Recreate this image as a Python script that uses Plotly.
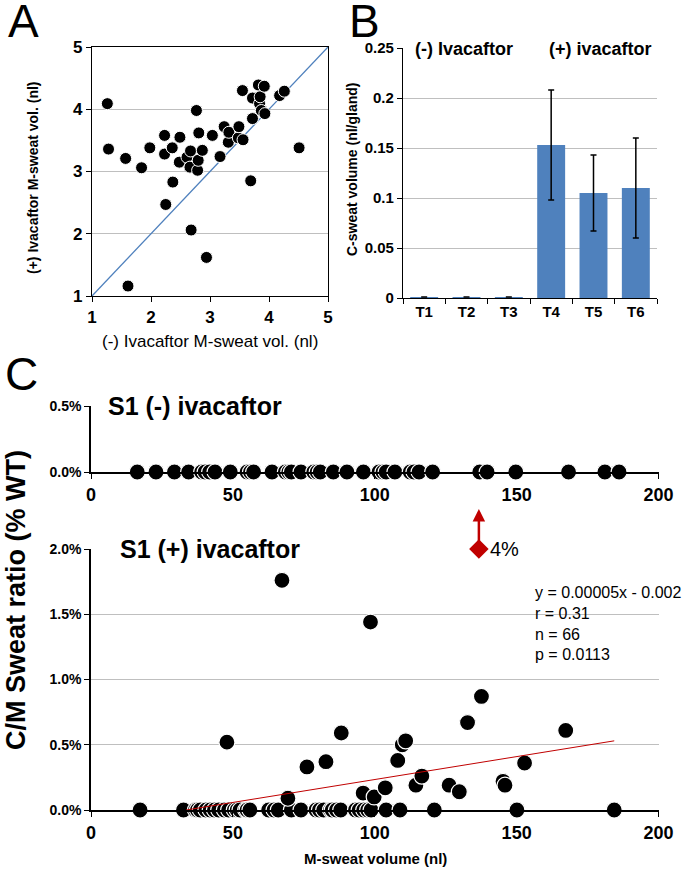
import plotly.graph_objects as go

# Panel A: M-sweat volume per gland, before vs after ivacaftor
a_minus = [1.26, 1.28, 1.57, 1.61, 1.84, 1.98, 2.23, 2.23, 2.25, 2.36, 2.37, 2.48, 2.49, 2.61, 2.66,
           2.67, 2.68, 2.77, 2.79, 2.80, 2.81, 2.87, 2.94, 3.04, 3.17, 3.24, 3.31, 3.32, 3.48, 3.49,
           3.55, 3.56, 3.69, 3.72, 3.72, 3.82, 3.84, 3.85, 3.87, 3.92, 3.93, 4.18, 4.26, 4.51]
a_plus = [4.09, 3.36, 3.21, 1.16, 3.06, 3.38, 3.58, 3.28, 2.47, 3.38, 2.83, 3.15, 3.55, 3.23, 3.07,
          3.33, 2.06, 3.98, 3.02, 3.18, 3.62, 3.34, 1.62, 3.58, 3.24, 3.72, 3.47, 3.63, 3.54, 3.72,
          4.30, 3.51, 2.85, 3.85, 4.18, 4.39, 4.09, 4.20, 3.98, 4.37, 3.93, 4.22, 4.29, 3.38]
identity = [1, 5]

# Panel B: C-sweat volume per test
b_tests = ['T1', 'T2', 'T3', 'T4', 'T5', 'T6']
b_vol = [0.001, 0.001, 0.001, 0.153, 0.105, 0.110]
b_err = [0, 0, 0, 0.055, 0.038, 0.050]

# Panel C top: S1 without ivacaftor (all zero ratio)
c_minus_x = [16.3, 22.9, 29.4, 34.4, 39.0, 40.2, 41.8, 43.7, 49.1, 55.0, 56.2, 57.3, 63.8, 68.5,
             69.7, 70.6, 74.0, 78.5, 79.7, 80.8, 85.4, 90.2, 96.0, 101.5, 102.9, 104.0, 107.1,
             112.5, 113.8, 115.6, 120.4, 137.0, 139.6, 149.7, 168.3, 181.1, 186.1]
c_minus_y = [0.0] * len(c_minus_x)

# Panel C bottom: S1 with ivacaftor
c_zero_x = [17.3, 32.6, 36.8, 37.5, 38.5, 40.5, 42.0, 43.5, 45.0, 47.0, 48.5, 50.5, 51.5, 52.5,
            54.5, 55.0, 56.0, 62.6, 64.5, 66.0, 70.6, 74.0, 79.3, 80.5, 82.0, 84.4, 85.0, 86.5,
            88.0, 93.2, 94.5, 96.1, 97.5, 98.7, 104.0, 108.9, 121.0, 150.1, 184.4]
c_pos_x = [47.9, 67.3, 69.4, 76.1, 82.8, 88.2, 95.9, 98.5, 99.8, 103.7, 108.1, 109.7, 110.9,
           114.5, 116.6, 126.2, 129.8, 132.7, 137.6, 145.2, 145.9, 152.8, 167.3]
c_pos_y = [0.52, 1.76, 0.09, 0.33, 0.37, 0.59, 0.13, 1.44, 0.10, 0.17, 0.38, 0.50, 0.53,
           0.19, 0.26, 0.19, 0.14, 0.67, 0.87, 0.22, 0.19, 0.36, 0.61]
c_plus_x = c_zero_x + c_pos_x
c_plus_y = [0.0] * len(c_zero_x) + c_pos_y
trend_x = [33.5, 184.4]
trend_y = [0.0, 0.53]
outlier_x = [136.7]
outlier_y = [2.0]
outlier_label = '4%'
stats = ['y = 0.00005x - 0.002', 'r = 0.31', 'n = 66', 'p = 0.0113']

W, H = 690, 871
FONT = 'Liberation Sans, Arial, sans-serif'
GRID = '#BFBFBF'


def px(x):
    return x / W


def py(y):
    return 1 - y / H


dot = dict(color='black', size=16, line=dict(color='white', width=1.2))

fig = go.Figure()

fig.add_trace(go.Scatter(x=identity, y=identity, mode='lines', line=dict(color='#4F81BD', width=1.3),
                         xaxis='x', yaxis='y', hoverinfo='skip'))
fig.add_trace(go.Scatter(x=a_minus, y=a_plus, mode='markers',
                         marker=dict(color='black', size=12, line=dict(color='white', width=1)),
                         xaxis='x', yaxis='y'))

fig.add_trace(go.Bar(x=b_tests, y=b_vol, marker=dict(color='#4F81BD', line=dict(width=0)),
                     error_y=dict(type='data', array=b_err, color='black', thickness=1.5, width=3),
                     xaxis='x2', yaxis='y2'))

fig.add_trace(go.Scatter(x=c_minus_x, y=c_minus_y, mode='markers', marker=dot, cliponaxis=False,
                         xaxis='x3', yaxis='y3'))

fig.add_trace(go.Scatter(x=c_plus_x, y=c_plus_y, mode='markers', marker=dot, cliponaxis=False,
                         xaxis='x4', yaxis='y4'))
fig.add_trace(go.Scatter(x=trend_x, y=trend_y, mode='lines', line=dict(color='#C00000', width=1),
                         cliponaxis=False, xaxis='x4', yaxis='y4'))
fig.add_trace(go.Scatter(x=outlier_x, y=outlier_y, mode='markers',
                         marker=dict(symbol='diamond', color='#C00000', size=15,
                                     line=dict(color='#C00000', width=0)),
                         cliponaxis=False, xaxis='x4', yaxis='y4'))

axis_common = dict(showline=True, linecolor='black', ticks='outside', tickcolor='black',
                   zeroline=False, automargin=False)


def tf(size):
    return dict(family=FONT, size=size, color='black', weight='bold')


fig.update_layout(
    width=W, height=H, showlegend=False, plot_bgcolor='white', paper_bgcolor='white',
    margin=dict(l=0, r=0, t=0, b=0, pad=0, autoexpand=False), bargap=0.34,
    font=dict(family=FONT, color='black'),
    xaxis=dict(axis_common, domain=[px(92), px(328)], range=[1, 5], dtick=1, anchor='y',
               mirror=True, linewidth=1.2, ticklen=5, showgrid=False, tickfont=tf(17)),
    yaxis=dict(axis_common, domain=[py(296), py(47)], range=[1, 5], dtick=1, anchor='x',
               mirror=True, linewidth=1.2, ticklen=5, gridcolor=GRID, tickfont=tf(17)),
    xaxis2=dict(axis_common, domain=[px(403), px(657)], anchor='y2', linewidth=1.2, ticklen=5,
                tickson='boundaries', showgrid=False, tickfont=tf(15)),
    yaxis2=dict(axis_common, domain=[py(298), py(48)], range=[0, 0.25], dtick=0.05, anchor='x2',
                linewidth=1.2, ticklen=5, gridcolor=GRID, tickfont=tf(15)),
    xaxis3=dict(axis_common, domain=[px(91), px(658.5)], range=[0, 200], dtick=50, anchor='y3',
                linewidth=2, ticklen=5, showgrid=False, tickfont=tf(18)),
    yaxis3=dict(axis_common, domain=[py(472), py(406)], range=[0, 0.5], tickvals=[0, 0.5],
                ticktext=['0.0%', '0.5%'], anchor='x3', linewidth=1.5, ticklen=5, gridcolor=GRID,
                tickfont=tf(14)),
    xaxis4=dict(axis_common, domain=[px(91), px(658.5)], range=[0, 200], dtick=50, anchor='y4',
                linewidth=2, ticklen=5, showgrid=False, tickfont=tf(18)),
    yaxis4=dict(axis_common, domain=[py(810), py(549)], range=[0, 2], dtick=0.5, tickformat='.1f',
                ticksuffix='%', anchor='x4', linewidth=1.5, ticklen=5, gridcolor=GRID,
                tickfont=tf(14)),
)

ann = []


def label(text, x, y, size, bold=False, angle=0, xanchor='center', yanchor='middle'):
    ann.append(dict(text=f'<b>{text}</b>' if bold else text, x=px(x), y=py(y), xref='paper',
                    yref='paper', showarrow=False, textangle=angle, xanchor=xanchor,
                    yanchor=yanchor, font=dict(family=FONT, size=size, color='black')))


label('A', 6, 21, 46, xanchor='left')
label('B', 347, 21, 46, xanchor='left')
label('C', 3, 374, 46, xanchor='left')
label('(+) Ivacaftor M-sweat vol. (nl)', 33, 178, 14, bold=True, angle=-90)
label('(-) Ivacaftor M-sweat vol. (nl)', 210, 342, 17)
label('C-sweat volume (nl/gland)', 352, 170, 14, bold=True, angle=-90)
label('C/M Sweat ratio (% WT)', 16, 600, 27, bold=True, angle=-90)
label('M-sweat volume (nl)', 375, 858, 15, bold=True)

# panel B legend-like labels sitting on the top gridline
for txt, xc in [('(-) Ivacaftor', 464), ('(+) ivacaftor', 600)]:
    ann.append(dict(text=f'<b>{txt}</b>', x=px(xc), y=py(49), xref='paper', yref='paper',
                    xanchor='center', yanchor='middle', showarrow=False, bgcolor='white',
                    borderpad=2, font=dict(family=FONT, size=18, color='black')))

# panel C headers
ann.append(dict(text='<b>S1 (-) ivacaftor</b>', x=4.2, y=0.5, xref='x3', yref='y3',
                xanchor='left', yanchor='middle', showarrow=False, bgcolor='white', borderpad=4,
                font=dict(family=FONT, size=25, color='black')))
ann.append(dict(text='<b>S1 (+) ivacaftor</b>', x=8.5, y=2.0, xref='x4', yref='y4',
                xanchor='left', yanchor='middle', showarrow=False, bgcolor='white', borderpad=4,
                font=dict(family=FONT, size=25, color='black')))

# off-scale point: arrow up and label
ann.append(dict(text='', x=outlier_x[0], y=outlier_y[0], xref='x4', yref='y4', yshift=40,
                showarrow=True, ax=0, ay=38, arrowhead=2, arrowsize=1, arrowwidth=2.5,
                arrowcolor='#C00000'))
ann.append(dict(text=outlier_label, x=outlier_x[0], y=outlier_y[0], xref='x4', yref='y4',
                xanchor='left', yanchor='middle', xshift=9, showarrow=False,
                font=dict(family=FONT, size=20, color='black')))

ann.append(dict(text='<br>'.join(stats), x=px(533), y=py(582), xref='paper', yref='paper',
                xanchor='left', yanchor='top', align='left', showarrow=False,
                font=dict(family=FONT, size=16, color='black')))

fig.update_layout(annotations=ann)

# drop the default page margin so the figure sits at the window's top-left corner
fig.write_html('out.html', config={'displayModeBar': False},
               post_script="document.body.style.margin='0';")
